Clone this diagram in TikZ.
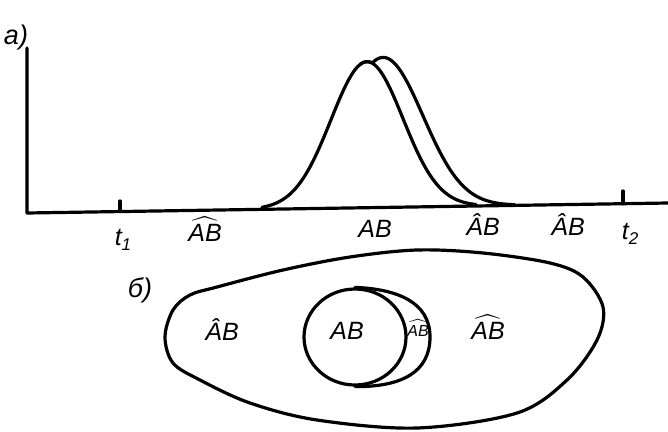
\documentclass[tikz,border=0pt]{standalone}
\usepackage{exscale}
\usepackage{fontspec}
\setmainfont{Liberation Sans}
\usetikzlibrary{shapes.geometric}
\newcommand{\wAB}{$\widehat{\mbox{\itshape AB}}$}
\newcommand{\hAB}{\itshape \^AB}
\newcommand{\tsub}[1]{\itshape t\raisebox{-5pt}{\fontsize{17}{17}\selectfont #1}}
\begin{document}
\begin{tikzpicture}[x=1pt,y=-1pt,
  curve/.style={line width=3.2pt,line join=round,line cap=round},
  lbl/.style={font=\fontsize{25}{29}\selectfont\itshape,inner sep=0pt},
  slbl/.style={font=\fontsize{16}{19}\selectfont\itshape,inner sep=0pt}]
\useasboundingbox (0,0) rectangle (668,431);
% axes
\coordinate (top) at (27,48);
\coordinate (O) at (27,213);
\coordinate (E) at (668,203);
\draw[curve] (top) -- (O) -- (E);
% ticks
\coordinate (t1a) at (120,211.5);
\coordinate (t1b) at (120,201);
\coordinate (t2a) at (623,203.7);
\coordinate (t2b) at (623,191);
\draw[curve] (t1a) -- (t1b);
\draw[curve] (t2a) -- (t2b);
% curves
\draw[curve] plot[domain=262:476,samples=90] (\x,{213-(\x-27)*0.0156-146*exp(-((\x-367)/36)^2/2)});
\draw[curve] plot[domain=360:515,samples=90] (\x,{213-(\x-27)*0.0156-max(146*exp(-((\x-367)/36)^2/2),150*exp(-((\x-383)/40)^2/2))});
% labels a
\node[lbl,font=\fontsize{27}{30}\selectfont\itshape] (la) at (16,38) {a)};
\node[lbl] (lt1) at (123,240) {\tsub{1}};
\node[lbl] (lt2) at (630,234) {\tsub{2}};
\node[lbl] (l1) at (205,229) {\wAB};
\node[lbl] (l2) at (375,229) {AB};
\node[lbl] (l3) at (483,225) {\hAB};
\node[lbl] (l4) at (568,225) {\hAB};
% lower diagram
\node[lbl,font=\fontsize{27}{30}\selectfont\itshape] (lb) at (140,290) {б)};
\draw[curve] plot[smooth cycle,tension=0.55] coordinates {
  (165,337) (173,310) (190,295) (217,287) (283,270) (350,257) (417,250)
  (483,253) (550,263) (583,277) (603,307) (597,340) (567,380) (517,413)
  (417,428) (317,420) (250,403) (200,380) (173,363)};
\node[draw,ellipse,curve,minimum width=102pt,minimum height=96pt,inner sep=0pt] (ab) at (355,337) {};
\draw[curve] (ab.north) .. controls (397,289) and (430,302) .. (430,337)
  .. controls (430,372) and (402,387) .. (ab.south);
\node[lbl] (m1) at (222,330) {\hAB};
\node[lbl] (m2) at (347,331) {AB};
\node[slbl] (m3) at (418,328) {\wAB};
\node[lbl] (m4) at (488,327) {\wAB};
\end{tikzpicture}
\end{document}
